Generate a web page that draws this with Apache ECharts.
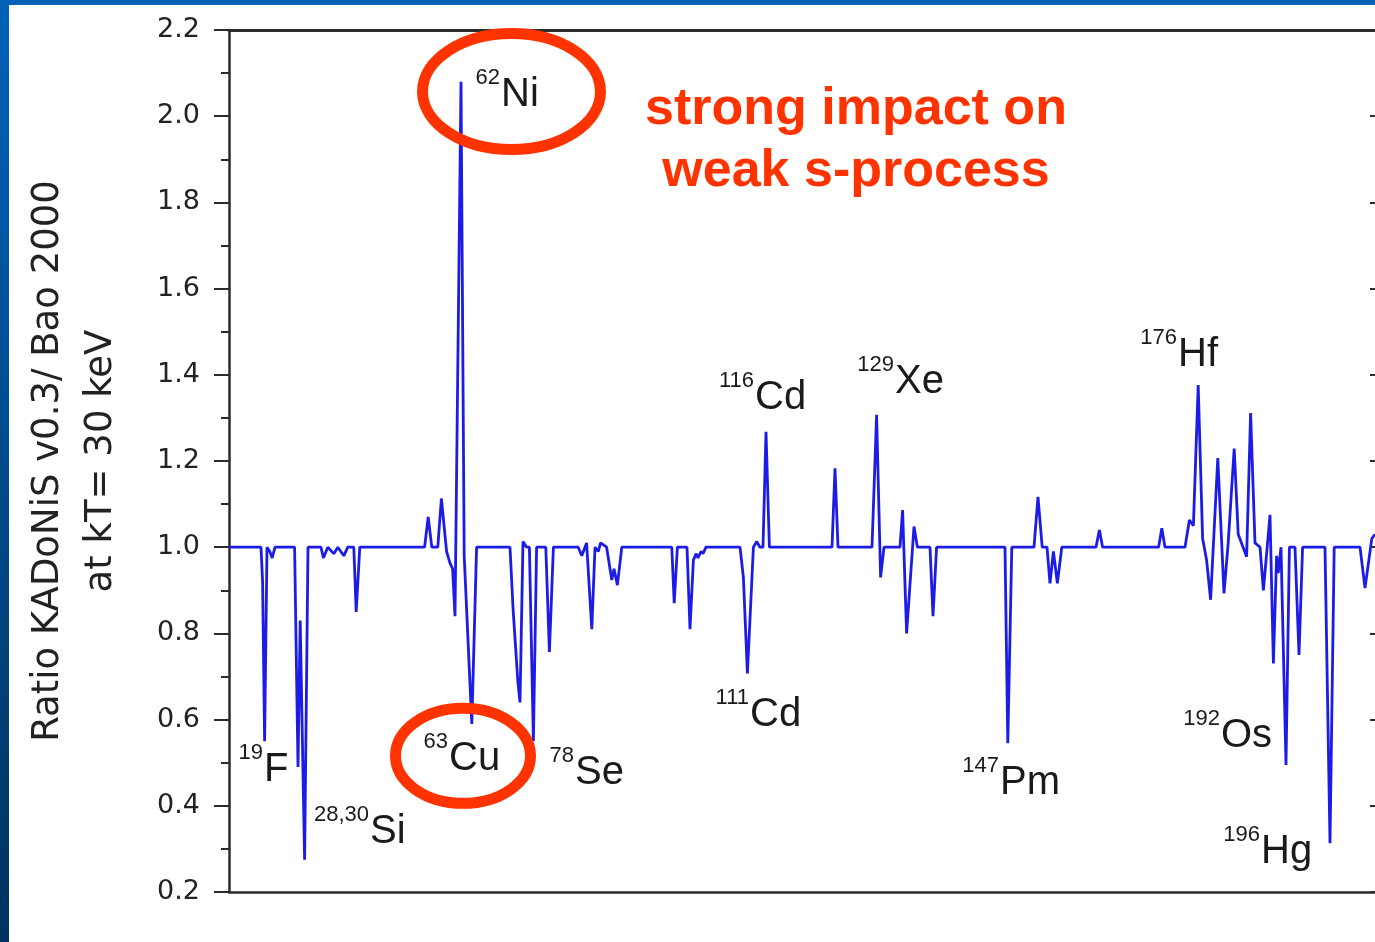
<!DOCTYPE html>
<html><head><meta charset="utf-8">
<script src="https://cdn.jsdelivr.net/npm/echarts@6/dist/echarts.min.js"></script>
<style>html,body{margin:0;padding:0;background:#fff}#c{width:1375px;height:942px}</style>
</head><body><div id="c"></div>
<script>
// isotope sequence index (x) and ratio KADoNiS v0.3 / Bao 2000 (y)
const isoIndex = [0,8.0,8.4,8.9,9.5,10.2,10.8,11.5,16.4,17.25,17.8,18.9,19.75,23.0,23.6,24.7,26.2,27.2,28.7,29.7,31.2,31.8,32.7,
48.9,49.8,50.7,52.2,53.1,54.4,55.25,55.9,56.5,58.0,58.8,60.7,61.9,
70.25,71.0,72.2,72.75,73.5,74.4,75.1,76.1,76.9,79.2,80.1,81.1,
87.3,88.2,89.4,90.7,91.5,92.3,92.9,94.4,95.7,96.25,97.1,98.2,
110.7,111.3,112.1,114.5,115.25,116.1,116.75,117.25,118.0,118.5,119.25,
127.75,128.6,129.6,131.1,131.9,132.75,133.5,134.25,135.1,
150.75,151.5,152.25,160.75,161.9,162.9,163.75,167.75,168.4,169.4,171.25,172.1,175.25,176.0,176.9,
194.0,194.7,195.7,201.25,202.25,203.3,204.5,205.25,206.1,207.1,208.2,
216.75,217.6,218.4,232.4,233.2,234.0,
239.0,240.1,241.1,242.3,243.4,244.4,245.4,247.2,248.75,249.8,251.3,252.3,254.4,255.4,256.5,257.75,258.6,
260.25,261.1,261.9,262.3,263.0,264.25,265.1,266.5,267.5,268.4,274.0,275.25,276.3,282.75,284.0,285.7,286.5];
const ratio = [1.0,1.0,0.92,0.55,1.0,0.99,0.975,1.0,1.0,0.49,0.83,0.275,1.0,1.0,0.975,1.0,0.985,1.0,0.98,1.0,1.0,0.85,1.0,
1.0,1.07,1.0,1.0,1.113,0.99,0.963,0.95,0.84,2.08,0.98,0.59,1.0,
1.0,0.86,0.69,0.64,1.013,1.0,1.0,0.55,1.0,1.0,0.757,1.0,
1.0,0.98,1.01,0.81,1.0,0.99,1.01,1.0,0.924,0.95,0.912,1.0,
1.0,0.87,1.0,1.0,0.81,0.97,0.985,0.975,0.99,0.985,1.0,
1.0,0.93,0.707,1.0,1.013,1.0,1.0,1.268,1.0,
1.0,1.183,1.0,1.0,1.307,0.93,1.0,1.0,1.086,0.80,1.048,1.0,1.0,0.84,1.0,
1.0,0.545,1.0,1.0,1.117,1.0,1.0,0.916,0.99,0.916,1.0,
1.0,1.04,1.0,1.0,1.044,1.0,
1.0,1.063,1.05,1.376,1.021,0.97,0.878,1.207,0.893,1.01,1.229,1.03,0.978,1.311,1.01,1.0,0.90,
1.075,0.73,0.98,0.94,1.0,0.495,1.0,1.0,0.75,1.0,1.0,0.313,1.0,1.0,0.905,1.02,1.03];

// isotope annotations: mass number(s), element, anchor (index, ratio)
const labelMass = ['19','28,30','62','63','78','111','116','129','147','176','192','196'];
const labelElem = ['F','Si','Ni','Cu','Se','Cd','Cd','Xe','Pm','Hf','Os','Hg'];
const labelAtX = [8.75,35.25,68,55,86.5,130.25,131.5,166.5,192.75,237.25,248,258];
const labelAtY = [0.483,0.339,2.049,0.509,0.476,0.611,1.346,1.383,0.453,1.446,0.562,0.293];
const circled = ['Ni','Cu'];
const note = ['strong impact on','weak s-process'];

const chart = echarts.init(document.getElementById('c'), null, {renderer:'canvas'});
const axisCol = '#2b2b2b';
const option = {
  animation:false,
  backgroundColor:'#ffffff',
  grid:{left:229, top:30, width:1149, height:862, containLabel:false, outerBoundsMode:'none'},
  xAxis:[
    {type:'value', min:0, max:287.25, position:'bottom', axisLine:{show:true,onZero:false,lineStyle:{color:axisCol,width:2.5}},
     axisTick:{show:false}, axisLabel:{show:false}, splitLine:{show:false}},
    {type:'value', min:0, max:287.25, position:'top', axisLine:{show:true,onZero:false,lineStyle:{color:axisCol,width:3}},
     axisTick:{show:false}, axisLabel:{show:false}, splitLine:{show:false}}
  ],
  yAxis:[
    {type:'value', min:0.2, max:2.2, interval:0.2, position:'left',
     axisLine:{show:true,onZero:false,lineStyle:{color:axisCol,width:2.5}},
     axisTick:{show:true,length:15,lineStyle:{color:axisCol,width:2}},
     minorTick:{show:true,splitNumber:2,length:8,lineStyle:{color:axisCol,width:2}},
     axisLabel:{formatter:v=>v.toFixed(1), fontSize:27, fontFamily:'DejaVu Sans', color:'#222', margin:29},
     splitLine:{show:false},
     name:'Ratio KADoNiS v0.3/ Bao 2000\nat kT= 30 keV', nameLocation:'middle', nameRotate:90, nameGap:101,
     nameTextStyle:{fontSize:37, fontFamily:'DejaVu Sans', color:'#222', lineHeight:53}},
    {type:'value', min:0.2, max:2.2, interval:0.2, position:'right',
     axisLine:{show:true,onZero:false,lineStyle:{color:axisCol,width:2.5}},
     axisTick:{show:true,inside:true,length:8,lineStyle:{color:axisCol,width:2}},
     axisLabel:{show:false}, splitLine:{show:false}}
  ],
  series:[{
    type:'line', xAxisIndex:0, yAxisIndex:0, showSymbol:false, symbol:'none',
    lineStyle:{color:'#1c1ce6', width:2.8}, z:3,
    data: isoIndex.map((x,i)=>[x, ratio[i]])
  }]
};
chart.setOption(option);

const g = [];
g.push({type:'rect', shape:{x:0,y:0,width:1375,height:5}, style:{fill:'#0061b7'}, z:100});
g.push({type:'rect', shape:{x:0,y:0,width:9,height:942},
  style:{fill:{type:'linear',x:0,y:0,x2:0,y2:1,colorStops:[{offset:0,color:'#0062b8'},{offset:1,color:'#00335f'}]}}, z:100});
const ellipseOff = {Ni:[10.5,-3.5,89,58], Cu:[14,-3,67.5,47.5]};
labelElem.forEach((el,i)=>{
  const p = chart.convertToPixel({gridIndex:0},[labelAtX[i],labelAtY[i]]);
  g.push({type:'text', x:p[0], y:p[1], z:50, style:{text:el, fill:'#1a1a1a', font:'40px "Liberation Sans", Arial, sans-serif', align:'left', verticalAlign:'middle'}});
  g.push({type:'text', x:p[0]-1, y:p[1]-17, z:50, style:{text:labelMass[i], fill:'#1a1a1a', font:'22px "Liberation Sans", Arial, sans-serif', align:'right', verticalAlign:'middle'}});
  if (circled.includes(el) && ellipseOff[el]) {
    const o = ellipseOff[el];
    g.push({type:'ellipse', z:60, shape:{cx:p[0]+o[0], cy:p[1]+o[1], rx:o[2], ry:o[3]}, style:{fill:null, stroke:'#ff3300', lineWidth:11}});
  }
});
g.push({type:'text', x:856, y:110, z:50, style:{text:note[0], fill:'#ff3300', font:'bold 52px "Liberation Sans", Arial, sans-serif', align:'center', verticalAlign:'middle'}});
g.push({type:'text', x:856, y:172, z:50, style:{text:note[1], fill:'#ff3300', font:'bold 52px "Liberation Sans", Arial, sans-serif', align:'center', verticalAlign:'middle'}});
chart.setOption({graphic:{elements:g}});
</script></body></html>
